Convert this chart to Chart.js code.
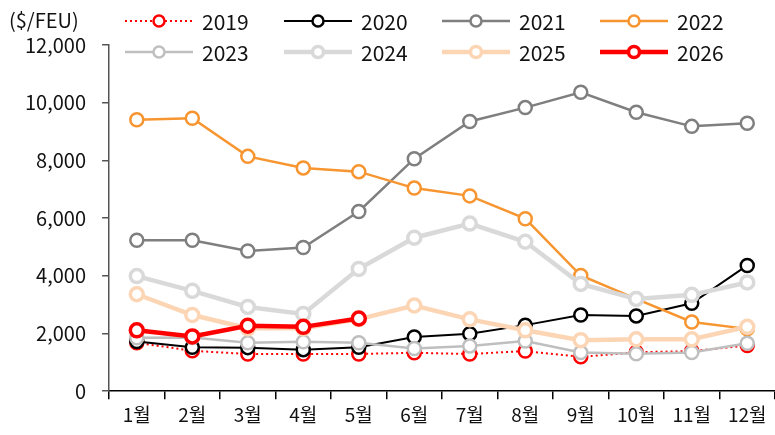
<!DOCTYPE html>
<html>
<head>
<meta charset="utf-8">
<script src="https://cdn.jsdelivr.net/npm/chart.js"></script>
<style>
  html, body { margin: 0; padding: 0; background: #fff; }
  #wrap { width: 775px; height: 435px; }
</style>
</head>
<body>
<div id="wrap"><canvas id="myChart" width="775" height="435"></canvas></div>
<script>
const months = ['1월', '2월', '3월', '4월', '5월', '6월', '7월', '8월', '9월', '10월', '11월', '12월'];

const y2019 = [1680, 1400, 1290, 1290, 1290, 1330, 1290, 1390, 1190, 1350, 1390, 1580];
const y2020 = [1720, 1520, 1510, 1440, 1520, 1880, 1990, 2290, 2640, 2610, 3050, 4360];
const y2021 = [5230, 5230, 4860, 4980, 6230, 8060, 9350, 9830, 10360, 9670, 9180, 9290];
const y2022 = [9410, 9460, 8140, 7740, 7610, 7040, 6770, 5980, 4010, 3200, 2400, 2160];
const y2023 = [1850, 1860, 1680, 1710, 1680, 1480, 1570, 1740, 1340, 1300, 1340, 1660];
const y2024 = [3990, 3480, 2920, 2680, 4240, 5320, 5810, 5180, 3720, 3200, 3340, 3770];
const y2025 = [3360, 2640, 2180, 2180, 2500, 2970, 2490, 2110, 1770, 1800, 1800, 2230];
const y2026 = [2110, 1900, 2270, 2230, 2520];

const yTicks = [0, 2000, 4000, 6000, 8000, 10000, 12000];

const FONT = "'Noto Sans CJK KR', 'Noto Sans', sans-serif";

function series(label, data, color, width, dash, order) {
  return {
    label: label,
    data: data,
    borderColor: color,
    backgroundColor: '#ffffff',
    borderWidth: width,
    borderDash: dash,
    pointRadius: 6.5,
    pointHoverRadius: 6.5,
    pointBackgroundColor: '#ffffff',
    pointBorderColor: color,
    pointBorderWidth: width > 3 ? 3.5 : 2.5,
    tension: 0,
    order: order
  };
}

// legend: line + circle, two rows of four
const lineLegend = {
  id: 'lineLegend',
  afterDraw(chart) {
    const c = chart.ctx;
    const colX = [125, 284, 442, 600];
    const rowY = [21, 52];
    c.save();
    chart.data.datasets.forEach((ds, i) => {
      const x = colX[i % 4];
      const y = rowY[Math.floor(i / 4)];
      c.strokeStyle = ds.borderColor;
      c.lineWidth = ds.borderWidth;
      c.setLineDash(ds.borderDash || []);
      c.beginPath();
      c.moveTo(x, y);
      c.lineTo(x + 68, y);
      c.stroke();
      c.setLineDash([]);
      c.beginPath();
      c.arc(x + 34, y, 5.5, 0, Math.PI * 2);
      c.fillStyle = '#fff';
      c.fill();
      c.lineWidth = ds.pointBorderWidth;
      c.stroke();
      c.fillStyle = '#111';
      c.font = '21px ' + FONT;
      c.textBaseline = 'middle';
      c.fillText(ds.label, x + 77, y + 1);
    });
    c.font = '20px ' + FONT;
    c.fillText('($/FEU)', 9, 20);
    c.restore();
  }
};

new Chart(document.getElementById('myChart'), {
  type: 'line',
  data: {
    labels: months,
    datasets: [
      series('2019', y2019, '#ff0000', 2, [2, 3], 8),
      series('2020', y2020, '#000000', 2, [], 7),
      series('2021', y2021, '#7f7f7f', 2.5, [], 6),
      series('2022', y2022, '#f79530', 2.5, [], 5),
      series('2023', y2023, '#bfbfbf', 2.5, [], 4),
      series('2024', y2024, '#d9d9d9', 4.5, [], 3),
      series('2025', y2025, '#fcd5b5', 4.5, [], 2),
      series('2026', y2026, '#ff0000', 4.5, [], 1)
    ]
  },
  options: {
    responsive: false,
    animation: false,
    layout: { autoPadding: false, padding: { left: 9, right: 0, top: 45, bottom: 5 } },
    plugins: {
      legend: { display: false },
      tooltip: { enabled: false }
    },
    scales: {
      x: {
        offset: true,
        grid: { display: true, drawOnChartArea: false, offset: true, tickLength: 8, color: '#000', lineWidth: 1.5 },
        border: { display: true, color: '#000', width: 1.5 },
        ticks: { color: '#111', font: { size: 19, family: FONT }, padding: 4 }
      },
      y: {
        min: 0,
        max: 12000,
        afterBuildTicks(axis) { axis.ticks = yTicks.map(v => ({ value: v })); },
        grid: { display: true, drawOnChartArea: false, tickLength: 7, color: '#555', lineWidth: 1.5 },
        border: { display: true, color: '#555', width: 1.5 },
        ticks: {
          color: '#111',
          font: { size: 20, family: FONT },
          padding: 16,
          callback: v => v.toLocaleString('en-US')
        }
      }
    }
  },
  plugins: [lineLegend]
});
</script>
</body>
</html>
